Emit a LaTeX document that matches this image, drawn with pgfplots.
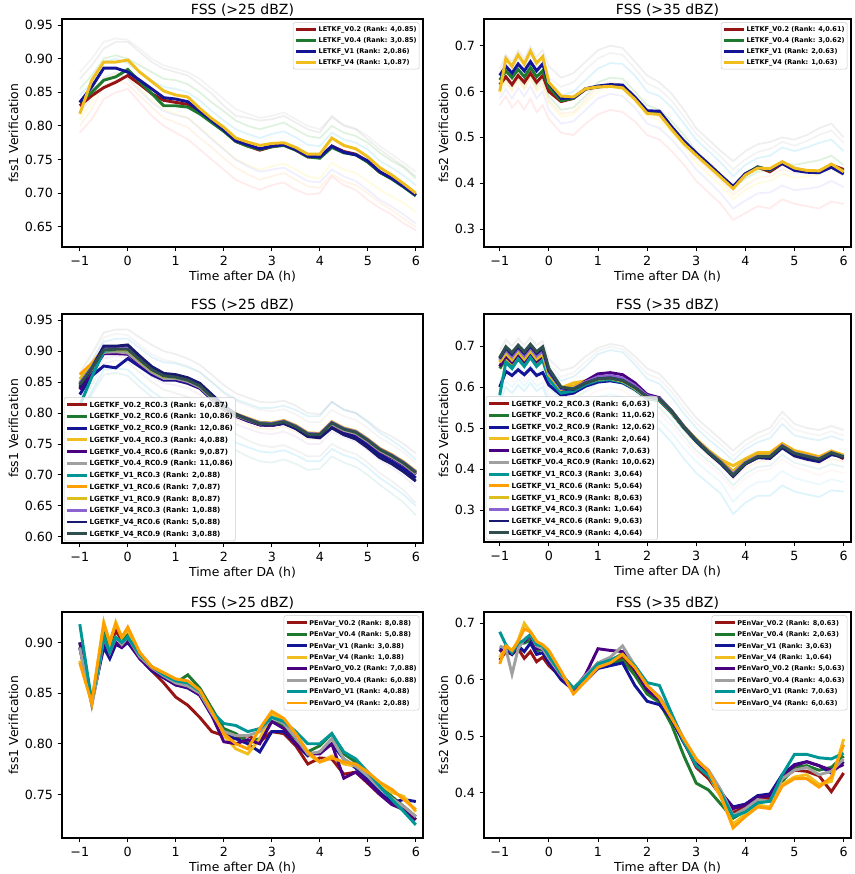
\documentclass[border=0pt]{standalone}
\usepackage{fontspec}
\setmainfont{DejaVu Sans}
\usepackage{pgfplots}
\usepackage{pgfplotstable}
\pgfplotsset{compat=1.18}

\definecolor{cR}{RGB}{150,20,20}
\definecolor{cG}{RGB}{30,120,45}
\definecolor{cB}{RGB}{20,20,150}
\definecolor{cY}{RGB}{240,190,30}
\definecolor{cP}{RGB}{75,0,130}
\definecolor{cK}{RGB}{160,160,160}
\definecolor{cC}{RGB}{0,150,150}
\definecolor{cO}{RGB}{255,160,0}
\definecolor{cGo}{RGB}{220,190,30}
\definecolor{cMP}{RGB}{140,100,210}
\definecolor{cN}{RGB}{25,25,112}
\definecolor{cD}{RGB}{47,79,79}

\pgfplotsset{
  fss/.style={
    scale only axis, no markers,
    tick align=outside, xtick pos=bottom, ytick pos=left,
    axis line style={line width=0.9pt},
    every tick/.style={black, line width=0.7pt},
    major tick length=3.2pt,
    xtick={-1,0,1,2,3,4,5,6},
    xticklabels={−1,0,1,2,3,4,5,6},
    xlabel={Time after DA (h)},
    /pgf/number format/assume math mode=true,
    ticklabel style={font=\fontsize{9.5}{10}\selectfont},
    label style={font=\fontsize{9.3}{10}\selectfont},
    xlabel style={yshift=3pt},
    ylabel style={yshift=-2pt},
    title style={font=\fontsize{10.5}{11}\selectfont, yshift=-7.5pt},
    legend cell align=left,
    legend style={font=\fontsize{4.9}{5.5}\selectfont\bfseries, draw=black!20,
      fill=white, fill opacity=0.8, text opacity=1, rounded corners=1.5pt,
      inner sep=1pt, row sep=0pt},
    legend image code/.code={\draw[##1, line width=2.2pt] (0pt,0pt) -- (15pt,0pt);},
  },
  main/.style={line width=2.2pt},
  mem/.style={line width=1.3pt, opacity=0.13, forget plot},
}

% panel 1: t r g b y m1..m8
\pgfplotstableread{
t r g b y m1 m2 m3 m4 m5 m6 m7 m8
-1    .830 .835 .835 .818 .870 .790 .855 .810 .845 .820 .880 .800
-0.75 .845 .850 .858 .868 .890 .810 .875 .835 .865 .842 .900 .825
-0.5  .857 .868 .886 .895 .915 .840 .900 .870 .895 .872 .925 .860
-0.25 .865 .873 .886 .895 .925 .850 .905 .878 .900 .880 .930 .868
0     .875 .884 .880 .898 .925 .855 .900 .872 .893 .870 .928 .862
0.25  .862 .866 .868 .880 .910 .835 .890 .855 .880 .852 .915 .845
0.5   .848 .848 .855 .866 .895 .815 .880 .838 .868 .835 .900 .828
0.75  .838 .830 .842 .852 .885 .800 .870 .825 .858 .822 .890 .812
1     .835 .830 .840 .846 .880 .790 .868 .818 .855 .816 .885 .805
1.25  .832 .828 .836 .843 .875 .780 .862 .812 .850 .812 .880 .798
1.5   .820 .818 .822 .826 .862 .765 .850 .798 .838 .796 .870 .782
1.75  .806 .805 .808 .811 .848 .750 .835 .782 .822 .780 .855 .768
2     .793 .792 .794 .798 .830 .735 .822 .766 .808 .765 .840 .752
2.25  .777 .777 .778 .782 .815 .720 .808 .750 .795 .750 .825 .738
2.5   .770 .770 .772 .776 .812 .712 .800 .742 .788 .740 .818 .728
2.75  .764 .765 .766 .771 .808 .705 .795 .735 .782 .732 .812 .720
3     .769 .769 .770 .774 .810 .712 .800 .740 .788 .735 .815 .725
3.25  .772 .771 .772 .775 .815 .716 .805 .744 .792 .738 .820 .730
3.5   .764 .764 .765 .768 .805 .705 .795 .735 .783 .728 .810 .720
3.75  .754 .754 .755 .758 .795 .698 .785 .725 .772 .718 .800 .710
4     .753 .752 .754 .758 .790 .700 .782 .722 .770 .716 .795 .708
4.25  .770 .768 .770 .782 .815 .725 .800 .745 .790 .735 .812 .728
4.5   .762 .760 .761 .771 .800 .712 .790 .735 .780 .725 .802 .718
4.75  .758 .757 .757 .766 .795 .705 .785 .730 .775 .718 .796 .712
5     .747 .746 .748 .754 .780 .690 .775 .718 .765 .705 .785 .700
5.25  .731 .731 .732 .738 .765 .678 .760 .705 .748 .690 .770 .686
5.5   .722 .721 .722 .727 .752 .668 .748 .695 .738 .680 .758 .675
5.75  .710 .709 .710 .714 .740 .655 .738 .685 .726 .668 .745 .662
6     .697 .696 .697 .700 .725 .645 .722 .672 .712 .655 .732 .650
}\tA

% panel 2
\pgfplotstableread{
t r g b y m1 m2 m3 m4 m5 m6 m7 m8
-1     .615 .625 .635 .600 .650 .570 .610 .595 .630 .585 .640 .605
-0.875 .632 .645 .655 .672 .680 .590 .630 .620 .655 .605 .668 .625
-0.75  .615 .630 .640 .655 .665 .565 .612 .600 .635 .585 .648 .605
-0.625 .635 .648 .660 .680 .690 .580 .632 .625 .660 .608 .672 .628
-0.5   .620 .632 .645 .660 .672 .560 .615 .605 .640 .590 .655 .608
-0.375 .640 .652 .665 .688 .698 .585 .638 .630 .665 .612 .678 .632
-0.25  .620 .632 .645 .662 .675 .555 .612 .600 .640 .585 .655 .605
-0.125 .635 .645 .660 .676 .690 .570 .628 .615 .655 .600 .668 .620
0      .600 .610 .618 .620 .655 .540 .590 .575 .615 .560 .630 .580
0.25   .578 .580 .585 .590 .630 .510 .560 .545 .590 .530 .610 .552
0.5    .585 .585 .586 .588 .640 .505 .565 .550 .600 .535 .620 .555
0.75   .605 .606 .606 .606 .665 .530 .590 .575 .625 .560 .648 .582
1      .610 .610 .612 .610 .690 .550 .620 .600 .650 .585 .672 .610
1.25   .612 .613 .615 .611 .700 .560 .630 .610 .662 .595 .684 .620
1.5    .610 .612 .614 .608 .695 .555 .628 .605 .660 .590 .680 .615
1.75   .585 .586 .588 .583 .665 .535 .600 .580 .635 .565 .650 .588
2      .555 .556 .558 .552 .635 .505 .570 .548 .600 .530 .618 .555
2.25   .553 .555 .557 .550 .620 .495 .560 .538 .590 .520 .605 .545
2.5    .520 .521 .523 .517 .595 .470 .535 .510 .565 .495 .580 .520
2.75   .488 .490 .492 .486 .560 .440 .505 .480 .530 .465 .545 .490
3      .463 .465 .466 .461 .520 .405 .470 .445 .495 .430 .508 .455
3.25   .440 .441 .442 .437 .495 .380 .445 .420 .470 .405 .482 .430
3.5    .415 .416 .417 .413 .470 .355 .420 .395 .445 .378 .458 .405
3.75   .392 .392 .393 .388 .448 .320 .390 .365 .415 .345 .430 .375
4      .418 .420 .421 .418 .470 .335 .410 .385 .440 .362 .452 .395
4.25   .435 .436 .434 .433 .485 .350 .425 .400 .455 .378 .468 .412
4.5    .425 .428 .430 .432 .490 .345 .430 .405 .460 .380 .475 .415
4.75   .443 .445 .443 .447 .500 .365 .445 .420 .478 .395 .490 .430
5      .430 .432 .428 .433 .495 .355 .440 .412 .470 .385 .482 .422
5.25   .426 .426 .424 .428 .505 .350 .445 .415 .478 .388 .492 .425
5.5    .425 .425 .423 .427 .520 .345 .450 .420 .488 .392 .505 .430
5.75   .440 .438 .435 .442 .530 .360 .460 .432 .495 .405 .515 .440
6      .430 .427 .420 .425 .500 .355 .440 .415 .470 .392 .488 .422
}\tB

% panel 3
\pgfplotstableread{
t c1 c2 c3 c4 c5 c6 c7 c8 c9 c10 c11 c12 m1 m2 m3 m4 m5 m6 m7 m8
-1    .840 .845 .830 .850 .838 .845 .812 .862 .855 .848 .842 .846 .865 .800 .850 .815 .830 .825 .855 .795
-0.75 .868 .872 .860 .878 .866 .870 .858 .880 .876 .874 .872 .872 .895 .835 .885 .845 .860 .855 .882 .830
-0.5  .898 .900 .876 .905 .896 .898 .900 .904 .902 .906 .908 .902 .930 .870 .915 .880 .895 .888 .922 .862
-0.25 .898 .900 .873 .905 .896 .899 .902 .903 .902 .906 .908 .903 .935 .872 .920 .885 .900 .892 .928 .865
0     .897 .898 .888 .905 .895 .897 .902 .903 .902 .908 .910 .903 .935 .870 .920 .882 .898 .890 .926 .860
0.25  .880 .882 .875 .888 .879 .881 .885 .886 .885 .890 .892 .886 .922 .852 .905 .866 .880 .874 .910 .842
0.5   .866 .867 .862 .872 .865 .866 .869 .870 .869 .873 .875 .870 .910 .835 .890 .850 .865 .858 .895 .826
0.75  .856 .857 .853 .862 .855 .856 .859 .860 .859 .862 .864 .860 .900 .822 .882 .838 .855 .848 .886 .812
1     .855 .856 .853 .860 .855 .856 .858 .859 .858 .860 .862 .858 .895 .818 .880 .832 .852 .845 .882 .806
1.25  .850 .851 .848 .856 .850 .851 .853 .854 .853 .855 .857 .853 .888 .810 .874 .826 .846 .840 .876 .800
1.5   .841 .842 .840 .847 .841 .842 .844 .845 .844 .846 .848 .844 .878 .800 .866 .816 .838 .830 .866 .790
1.75  .823 .824 .822 .829 .823 .824 .826 .827 .826 .828 .830 .826 .862 .782 .850 .798 .820 .812 .850 .772
2     .806 .807 .806 .811 .806 .807 .809 .810 .809 .810 .812 .809 .845 .765 .834 .780 .802 .795 .832 .755
2.25  .795 .796 .795 .799 .795 .796 .798 .798 .797 .798 .798 .797 .832 .752 .822 .766 .790 .782 .820 .740
2.5   .788 .789 .787 .792 .788 .789 .790 .791 .790 .791 .790 .790 .825 .745 .815 .756 .782 .775 .812 .730
2.75  .781 .782 .781 .785 .781 .782 .784 .784 .783 .784 .782 .783 .818 .738 .808 .748 .775 .768 .805 .722
3     .780 .781 .780 .784 .780 .781 .783 .783 .782 .783 .781 .782 .817 .736 .808 .745 .774 .766 .803 .720
3.25  .784 .785 .783 .788 .784 .785 .786 .787 .786 .787 .784 .786 .820 .740 .812 .748 .778 .770 .806 .725
3.5   .776 .777 .775 .780 .776 .777 .778 .779 .778 .779 .775 .778 .812 .732 .805 .740 .770 .762 .798 .718
3.75  .764 .765 .763 .768 .764 .765 .766 .767 .766 .767 .762 .766 .800 .722 .795 .730 .758 .750 .786 .708
4     .762 .763 .761 .767 .762 .763 .765 .766 .765 .766 .760 .765 .798 .722 .795 .730 .757 .750 .785 .710
4.25  .781 .782 .779 .786 .781 .782 .784 .785 .784 .785 .776 .784 .818 .742 .818 .750 .776 .770 .805 .730
4.5   .771 .772 .768 .776 .771 .772 .774 .775 .774 .775 .765 .774 .806 .732 .805 .740 .766 .760 .795 .720
4.75  .766 .767 .762 .771 .766 .767 .769 .770 .769 .770 .758 .769 .800 .726 .800 .734 .760 .754 .789 .713
5     .753 .754 .748 .758 .753 .754 .756 .757 .756 .757 .744 .756 .787 .712 .785 .720 .748 .740 .776 .700
5.25  .738 .739 .733 .743 .738 .739 .741 .742 .741 .742 .728 .741 .772 .695 .768 .703 .732 .724 .760 .684
5.5   .728 .729 .722 .733 .728 .729 .731 .732 .731 .732 .718 .731 .762 .682 .756 .690 .720 .712 .749 .670
5.75  .716 .717 .710 .721 .716 .717 .719 .720 .719 .720 .705 .719 .750 .668 .742 .675 .707 .698 .736 .655
6     .701 .702 .695 .706 .701 .702 .704 .705 .704 .705 .690 .704 .735 .650 .725 .655 .690 .680 .720 .635
}\tC

% panel 4
\pgfplotstableread{
t c1 c2 c3 c4 c5 c6 c7 c8 c9 c10 c11 c12 m1 m2 m3 m4 m5 m6 m7 m8
-1     .650 .645 .600 .655 .650 .665 .580 .662 .660 .668 .670 .672 .690 .565 .660 .600 .630 .615 .675 .585
-0.875 .672 .668 .638 .670 .675 .690 .660 .684 .682 .690 .695 .698 .715 .600 .690 .630 .660 .645 .705 .615
-0.75  .658 .652 .628 .658 .660 .675 .645 .668 .666 .674 .680 .684 .700 .585 .675 .612 .645 .630 .690 .600
-0.625 .678 .672 .642 .672 .680 .695 .668 .688 .686 .694 .698 .702 .718 .605 .695 .632 .665 .650 .708 .620
-0.5   .660 .655 .630 .660 .662 .678 .650 .670 .668 .676 .682 .686 .702 .590 .678 .615 .648 .632 .692 .602
-0.375 .680 .675 .645 .675 .682 .698 .672 .690 .688 .696 .700 .704 .720 .610 .698 .635 .668 .652 .710 .622
-0.25  .660 .655 .628 .658 .662 .678 .650 .670 .668 .676 .682 .686 .702 .590 .678 .615 .648 .632 .692 .602
-0.125 .672 .668 .635 .668 .675 .690 .665 .682 .680 .688 .694 .698 .712 .600 .690 .625 .660 .645 .702 .612
0      .625 .622 .605 .630 .628 .640 .618 .632 .630 .636 .640 .645 .668 .560 .645 .585 .612 .598 .655 .572
0.25   .588 .586 .580 .598 .592 .598 .585 .596 .594 .596 .598 .600 .640 .530 .615 .555 .582 .568 .625 .542
0.5    .592 .590 .585 .610 .595 .598 .590 .602 .600 .596 .594 .595 .648 .528 .625 .556 .585 .570 .635 .542
0.75   .608 .606 .602 .615 .615 .612 .606 .612 .610 .612 .610 .610 .675 .545 .650 .575 .602 .590 .662 .560
1      .618 .616 .612 .620 .632 .622 .616 .620 .619 .625 .620 .620 .695 .560 .680 .592 .620 .610 .688 .576
1.25   .620 .618 .615 .622 .635 .624 .618 .622 .621 .628 .622 .622 .705 .565 .690 .598 .625 .615 .698 .582
1.5    .613 .612 .610 .615 .630 .617 .612 .615 .614 .622 .616 .616 .700 .560 .685 .592 .620 .610 .692 .576
1.75   .596 .595 .594 .598 .610 .600 .595 .598 .597 .604 .599 .599 .675 .540 .655 .572 .598 .588 .665 .556
2      .573 .572 .572 .576 .582 .577 .572 .575 .574 .579 .576 .576 .645 .508 .620 .545 .570 .560 .632 .528
2.25   .568 .567 .567 .571 .574 .572 .567 .570 .569 .572 .570 .571 .632 .498 .608 .535 .560 .550 .620 .518
2.5    .538 .537 .538 .541 .542 .542 .537 .540 .539 .541 .540 .541 .600 .465 .575 .505 .530 .518 .588 .488
2.75   .500 .500 .501 .504 .503 .504 .500 .503 .502 .503 .502 .503 .562 .425 .535 .468 .492 .480 .548 .450
3      .468 .468 .469 .473 .470 .472 .467 .471 .470 .470 .468 .470 .525 .390 .500 .435 .458 .445 .512 .418
3.25   .440 .440 .441 .446 .441 .444 .439 .443 .442 .442 .439 .441 .498 .365 .472 .410 .432 .420 .485 .392
3.5    .416 .416 .417 .423 .416 .420 .414 .419 .418 .417 .413 .416 .472 .340 .448 .385 .408 .395 .460 .368
3.75   .388 .388 .390 .408 .386 .392 .384 .395 .393 .388 .382 .385 .445 .290 .420 .350 .375 .360 .432 .320
4      .416 .415 .414 .425 .414 .420 .413 .420 .419 .416 .412 .414 .470 .318 .448 .378 .402 .388 .458 .350
4.25   .430 .430 .428 .440 .428 .434 .428 .436 .434 .431 .428 .430 .488 .335 .465 .395 .418 .405 .476 .368
4.5    .430 .430 .426 .440 .428 .434 .428 .436 .434 .431 .427 .430 .500 .335 .475 .400 .422 .408 .488 .370
4.75   .455 .456 .452 .462 .455 .459 .454 .460 .458 .457 .453 .456 .540 .360 .510 .425 .448 .435 .525 .395
5      .438 .438 .432 .445 .437 .441 .436 .443 .441 .439 .434 .438 .510 .345 .482 .405 .428 .415 .496 .378
5.25   .432 .431 .424 .438 .430 .434 .430 .436 .434 .432 .427 .431 .500 .338 .475 .395 .420 .408 .488 .370
5.5    .425 .424 .418 .430 .422 .426 .423 .428 .426 .425 .420 .424 .495 .332 .470 .385 .412 .400 .482 .362
5.75   .440 .439 .435 .444 .438 .441 .438 .442 .441 .440 .436 .440 .505 .348 .480 .398 .425 .412 .492 .375
6      .425 .430 .432 .434 .428 .431 .430 .432 .431 .430 .428 .430 .495 .345 .470 .390 .418 .405 .482 .368
}\tD

% panel 5
\pgfplotstableread{
t r g b y p k c o
-1     .895 .900 .895 .882 .900 .895 .918 .880
-0.875 .868 .872 .868 .862 .870 .866 .880 .860
-0.75  .840 .842 .842 .842 .840 .838 .842 .840
-0.625 .868 .875 .868 .880 .870 .868 .872 .880
-0.5   .900 .910 .895 .920 .902 .905 .905 .918
-0.375 .890 .896 .884 .900 .888 .890 .890 .900
-0.25  .912 .905 .898 .920 .900 .905 .905 .918
-0.125 .902 .900 .895 .905 .895 .898 .900 .905
0      .905 .908 .900 .912 .902 .905 .905 .915
0.25   .885 .886 .884 .890 .884 .886 .888 .890
0.5    .872 .874 .872 .876 .873 .875 .876 .876
0.75   .860 .868 .865 .870 .866 .867 .868 .870
1      .846 .860 .858 .862 .858 .860 .862 .864
1.25   .838 .868 .855 .860 .856 .857 .860 .862
1.5    .826 .855 .848 .852 .848 .850 .852 .853
1.75   .812 .835 .828 .830 .828 .830 .832 .832
2      .808 .815 .810 .808 .802 .812 .820 .810
2.25   .805 .810 .805 .795 .800 .808 .818 .800
2.5    .808 .802 .800 .790 .804 .808 .812 .795
2.75   .802 .805 .792 .805 .800 .812 .815 .815
3      .812 .822 .812 .830 .822 .826 .826 .832
3.25   .810 .818 .812 .822 .815 .820 .822 .825
3.5    .798 .805 .800 .808 .800 .806 .812 .810
3.75   .780 .792 .788 .790 .790 .790 .800 .792
4      .786 .798 .792 .782 .790 .792 .800 .782
4.25   .785 .810 .800 .788 .800 .805 .810 .786
4.5    .770 .790 .785 .780 .766 .785 .792 .782
4.75   .772 .782 .776 .778 .772 .778 .785 .780
5      .761 .772 .765 .770 .762 .768 .772 .772
5.25   .750 .758 .752 .760 .750 .756 .758 .762
5.5    .742 .748 .742 .752 .740 .746 .745 .755
5.75   .738 .738 .745 .748 .735 .738 .733 .745
6      .728 .725 .743 .733 .725 .728 .720 .735
}\tE

% panel 6
\pgfplotstableread{
t r g b y p k c o
-1     .635 .650 .655 .640 .650 .660 .685 .628
-0.875 .650 .660 .655 .660 .660 .655 .662 .660
-0.75  .645 .650 .645 .650 .648 .610 .648 .652
-0.625 .655 .665 .660 .670 .665 .655 .665 .668
-0.5   .638 .665 .650 .700 .668 .672 .670 .690
-0.375 .650 .670 .665 .685 .678 .680 .680 .685
-0.25  .632 .650 .645 .668 .655 .660 .662 .668
-0.125 .640 .655 .648 .660 .655 .655 .660 .662
0      .625 .640 .630 .650 .635 .638 .642 .652
0.25   .605 .610 .600 .612 .605 .608 .610 .615
0.5    .582 .585 .582 .578 .580 .585 .585 .575
0.75   .605 .605 .598 .600 .610 .608 .605 .598
1      .630 .625 .620 .625 .655 .630 .628 .622
1.25   .632 .628 .625 .632 .652 .640 .635 .630
1.5    .640 .635 .630 .648 .650 .660 .645 .645
1.75   .615 .608 .590 .620 .618 .625 .625 .622
2      .580 .575 .562 .585 .582 .590 .595 .590
2.25   .565 .560 .556 .570 .565 .570 .590 .568
2.5    .530 .520 .530 .535 .532 .538 .540 .532
2.75   .490 .465 .488 .492 .492 .495 .490 .495
3      .445 .417 .452 .455 .455 .458 .448 .460
3.25   .425 .405 .435 .432 .435 .440 .430 .438
3.5    .395 .380 .400 .392 .402 .405 .400 .395
3.75   .365 .355 .375 .345 .372 .360 .358 .338
4      .375 .368 .380 .362 .378 .372 .366 .358
4.25   .390 .385 .395 .378 .392 .388 .382 .375
4.5    .390 .385 .398 .375 .395 .385 .385 .372
4.75   .425 .420 .432 .415 .430 .425 .432 .412
5      .440 .445 .450 .428 .448 .440 .468 .425
5.25   .438 .448 .455 .432 .455 .445 .468 .425
5.5    .430 .440 .448 .415 .448 .432 .462 .410
5.75   .402 .445 .435 .420 .440 .438 .460 .428
6      .435 .465 .455 .495 .450 .460 .470 .485
}\tF

\begin{document}
\begin{tikzpicture}
\useasboundingbox (0,0) rectangle (640.5pt,-655.5pt);

% ---- panel 1
\begin{axis}[fss, at={(46.5pt,-14.25pt)}, anchor=north west,
  width=270.75pt, height=171pt,
  xmin=-1.37, xmax=6.15, ymin=0.62, ymax=0.959,
  ytick={0.65,0.70,0.75,0.80,0.85,0.90,0.95},
  yticklabels={0.65,0.70,0.75,0.80,0.85,0.90,0.95},
  ylabel={fss1 Verification}, title={FSS (>25 dBZ)},
  legend style={at={(0.99,0.985)}, anchor=north east,
    nodes={inner sep=0.9pt, text height=4.9pt, text depth=1.5pt}}]
\addplot[mem, gray] table[y=m1]{\tA};
\addplot[mem, red!60] table[y=m2]{\tA};
\addplot[mem, green!60!black] table[y=m3]{\tA};
\addplot[mem, yellow!80!orange] table[y=m4]{\tA};
\addplot[mem, cyan] table[y=m5]{\tA};
\addplot[mem, blue!50] table[y=m6]{\tA};
\addplot[mem, gray!70] table[y=m7]{\tA};
\addplot[mem, orange!70] table[y=m8]{\tA};
\addplot[main, cR] table[y=r]{\tA}; \addlegendentry{LETKF\_V0.2 (Rank: 4,0.85)}
\addplot[main, cG] table[y=g]{\tA}; \addlegendentry{LETKF\_V0.4 (Rank: 3,0.85)}
\addplot[main, cB] table[y=b]{\tA}; \addlegendentry{LETKF\_V1 (Rank: 2,0.86)}
\addplot[main, cY] table[y=y]{\tA}; \addlegendentry{LETKF\_V4 (Rank: 1,0.87)}
\end{axis}

% ---- panel 2
\begin{axis}[fss, at={(363pt,-14.25pt)}, anchor=north west,
  width=275.25pt, height=171pt,
  xmin=-1.32, xmax=6.15, ymin=0.261, ymax=0.758,
  ytick={0.3,0.4,0.5,0.6,0.7}, yticklabels={0.3,0.4,0.5,0.6,0.7},
  ylabel={fss2 Verification}, title={FSS (>35 dBZ)},
  legend style={at={(0.99,0.985)}, anchor=north east,
    nodes={inner sep=0.9pt, text height=4.9pt, text depth=1.5pt}}]
\addplot[mem, gray] table[y=m1]{\tB};
\addplot[mem, red!60] table[y=m2]{\tB};
\addplot[mem, green!60!black] table[y=m3]{\tB};
\addplot[mem, yellow!80!orange] table[y=m4]{\tB};
\addplot[mem, cyan] table[y=m5]{\tB};
\addplot[mem, blue!50] table[y=m6]{\tB};
\addplot[mem, gray!70] table[y=m7]{\tB};
\addplot[mem, orange!70] table[y=m8]{\tB};
\addplot[main, cR] table[y=r]{\tB}; \addlegendentry{LETKF\_V0.2 (Rank: 4,0.61)}
\addplot[main, cG] table[y=g]{\tB}; \addlegendentry{LETKF\_V0.4 (Rank: 3,0.62)}
\addplot[main, cB] table[y=b]{\tB}; \addlegendentry{LETKF\_V1 (Rank: 2,0.63)}
\addplot[main, cY] table[y=y]{\tB}; \addlegendentry{LETKF\_V4 (Rank: 1,0.63)}
\end{axis}

% ---- panel 3
\begin{axis}[fss, at={(46.5pt,-235.5pt)}, anchor=north west,
  width=270.75pt, height=171.75pt,
  xmin=-1.37, xmax=6.15, ymin=0.59, ymax=0.96,
  ytick={0.60,0.65,0.70,0.75,0.80,0.85,0.90,0.95},
  yticklabels={0.60,0.65,0.70,0.75,0.80,0.85,0.90,0.95},
  ylabel={fss1 Verification}, title={FSS (>25 dBZ)},
  legend style={at={(0.005,0.008)}, anchor=south west,
    font=\fontsize{5.3}{6}\selectfont\bfseries,
    nodes={inner sep=0.9pt, text height=5.4pt, text depth=1.6pt}}]
\addplot[mem, gray] table[y=m1]{\tC};
\addplot[mem, cyan] table[y=m2]{\tC};
\addplot[mem, cyan!80!teal] table[y=m3]{\tC};
\addplot[mem, gray!80] table[y=m4]{\tC};
\addplot[mem, orange!70] table[y=m5]{\tC};
\addplot[mem, violet!50] table[y=m6]{\tC};
\addplot[mem, gray!60] table[y=m7]{\tC};
\addplot[mem, teal!70] table[y=m8]{\tC};
\addplot[main, cR] table[y=c1]{\tC}; \addlegendentry{LGETKF\_V0.2\_RC0.3 (Rank: 6,0.87)}
\addplot[main, cG] table[y=c2]{\tC}; \addlegendentry{LGETKF\_V0.2\_RC0.6 (Rank: 10,0.86)}
\addplot[main, cB] table[y=c3]{\tC}; \addlegendentry{LGETKF\_V0.2\_RC0.9 (Rank: 12,0.86)}
\addplot[main, cY] table[y=c4]{\tC}; \addlegendentry{LGETKF\_V0.4\_RC0.3 (Rank: 4,0.88)}
\addplot[main, cP] table[y=c5]{\tC}; \addlegendentry{LGETKF\_V0.4\_RC0.6 (Rank: 9,0.87)}
\addplot[main, cK] table[y=c6]{\tC}; \addlegendentry{LGETKF\_V0.4\_RC0.9 (Rank: 11,0.86)}
\addplot[main, cC] table[y=c7]{\tC}; \addlegendentry{LGETKF\_V1\_RC0.3 (Rank: 2,0.88)}
\addplot[main, cO] table[y=c8]{\tC}; \addlegendentry{LGETKF\_V1\_RC0.6 (Rank: 7,0.87)}
\addplot[main, cGo] table[y=c9]{\tC}; \addlegendentry{LGETKF\_V1\_RC0.9 (Rank: 8,0.87)}
\addplot[main, cMP] table[y=c10]{\tC}; \addlegendentry{LGETKF\_V4\_RC0.3 (Rank: 1,0.88)}
\addplot[main, cN] table[y=c11]{\tC}; \addlegendentry{LGETKF\_V4\_RC0.6 (Rank: 5,0.88)}
\addplot[main, cD] table[y=c12]{\tC}; \addlegendentry{LGETKF\_V4\_RC0.9 (Rank: 3,0.88)}
\end{axis}

% ---- panel 4
\begin{axis}[fss, at={(363pt,-235.5pt)}, anchor=north west,
  width=275.25pt, height=171pt,
  xmin=-1.32, xmax=6.15, ymin=0.222, ymax=0.778,
  ytick={0.3,0.4,0.5,0.6,0.7}, yticklabels={0.3,0.4,0.5,0.6,0.7},
  ylabel={fss2 Verification}, title={FSS (>35 dBZ)},
  legend style={at={(0.005,0.008)}, anchor=south west,
    font=\fontsize{5.3}{6}\selectfont\bfseries,
    nodes={inner sep=0.9pt, text height=5.4pt, text depth=1.6pt}}]
\addplot[mem, gray] table[y=m1]{\tD};
\addplot[mem, cyan] table[y=m2]{\tD};
\addplot[mem, cyan!80!teal] table[y=m3]{\tD};
\addplot[mem, pink] table[y=m4]{\tD};
\addplot[mem, orange!70] table[y=m5]{\tD};
\addplot[mem, teal!70] table[y=m6]{\tD};
\addplot[mem, gray!60] table[y=m7]{\tD};
\addplot[mem, cyan!60] table[y=m8]{\tD};
\addplot[main, cR] table[y=c1]{\tD}; \addlegendentry{LGETKF\_V0.2\_RC0.3 (Rank: 6,0.63)}
\addplot[main, cG] table[y=c2]{\tD}; \addlegendentry{LGETKF\_V0.2\_RC0.6 (Rank: 11,0.62)}
\addplot[main, cB] table[y=c3]{\tD}; \addlegendentry{LGETKF\_V0.2\_RC0.9 (Rank: 12,0.62)}
\addplot[main, cY] table[y=c4]{\tD}; \addlegendentry{LGETKF\_V0.4\_RC0.3 (Rank: 2,0.64)}
\addplot[main, cP] table[y=c5]{\tD}; \addlegendentry{LGETKF\_V0.4\_RC0.6 (Rank: 7,0.63)}
\addplot[main, cK] table[y=c6]{\tD}; \addlegendentry{LGETKF\_V0.4\_RC0.9 (Rank: 10,0.62)}
\addplot[main, cC] table[y=c7]{\tD}; \addlegendentry{LGETKF\_V1\_RC0.3 (Rank: 3,0.64)}
\addplot[main, cO] table[y=c8]{\tD}; \addlegendentry{LGETKF\_V1\_RC0.6 (Rank: 5,0.64)}
\addplot[main, cGo] table[y=c9]{\tD}; \addlegendentry{LGETKF\_V1\_RC0.9 (Rank: 8,0.63)}
\addplot[main, cMP] table[y=c10]{\tD}; \addlegendentry{LGETKF\_V4\_RC0.3 (Rank: 1,0.64)}
\addplot[main, cN] table[y=c11]{\tD}; \addlegendentry{LGETKF\_V4\_RC0.6 (Rank: 9,0.63)}
\addplot[main, cD] table[y=c12]{\tD}; \addlegendentry{LGETKF\_V4\_RC0.9 (Rank: 4,0.64)}
\end{axis}

% ---- panel 5
\begin{axis}[fss, at={(46.5pt,-459pt)}, anchor=north west,
  width=270.75pt, height=169.5pt,
  xmin=-1.37, xmax=6.15, ymin=0.707, ymax=0.930,
  ytick={0.75,0.80,0.85,0.90}, yticklabels={0.75,0.80,0.85,0.90},
  ylabel={fss1 Verification}, title={FSS (>25 dBZ)},
  legend style={at={(0.99,0.985)}, anchor=north east,
    nodes={inner sep=0.9pt, text height=5.2pt, text depth=1.6pt}}]
\addplot[main, cR] table[y=r]{\tE}; \addlegendentry{PEnVar\_V0.2 (Rank: 8,0.88)}
\addplot[main, cG] table[y=g]{\tE}; \addlegendentry{PEnVar\_V0.4 (Rank: 5,0.88)}
\addplot[main, cB] table[y=b]{\tE}; \addlegendentry{PEnVar\_V1 (Rank: 3,0.88)}
\addplot[main, cY] table[y=y]{\tE}; \addlegendentry{PEnVar\_V4 (Rank: 1,0.88)}
\addplot[main, cP] table[y=p]{\tE}; \addlegendentry{PEnVarO\_V0.2 (Rank: 7,0.88)}
\addplot[main, cK] table[y=k]{\tE}; \addlegendentry{PEnVarO\_V0.4 (Rank: 6,0.88)}
\addplot[main, cC] table[y=c]{\tE}; \addlegendentry{PEnVarO\_V1 (Rank: 4,0.88)}
\addplot[main, cO] table[y=o]{\tE}; \addlegendentry{PEnVarO\_V4 (Rank: 2,0.88)}
\end{axis}

% ---- panel 6
\begin{axis}[fss, at={(363pt,-459pt)}, anchor=north west,
  width=275.25pt, height=169.5pt,
  xmin=-1.32, xmax=6.15, ymin=0.32, ymax=0.72,
  ytick={0.4,0.5,0.6,0.7}, yticklabels={0.4,0.5,0.6,0.7},
  ylabel={fss2 Verification}, title={FSS (>35 dBZ)},
  legend style={at={(0.99,0.985)}, anchor=north east,
    nodes={inner sep=0.9pt, text height=5.2pt, text depth=1.6pt}}]
\addplot[main, cR] table[y=r]{\tF}; \addlegendentry{PEnVar\_V0.2 (Rank: 8,0.63)}
\addplot[main, cG] table[y=g]{\tF}; \addlegendentry{PEnVar\_V0.4 (Rank: 2,0.63)}
\addplot[main, cB] table[y=b]{\tF}; \addlegendentry{PEnVar\_V1 (Rank: 3,0.63)}
\addplot[main, cY] table[y=y]{\tF}; \addlegendentry{PEnVar\_V4 (Rank: 1,0.64)}
\addplot[main, cP] table[y=p]{\tF}; \addlegendentry{PEnVarO\_V0.2 (Rank: 5,0.63)}
\addplot[main, cK] table[y=k]{\tF}; \addlegendentry{PEnVarO\_V0.4 (Rank: 4,0.63)}
\addplot[main, cC] table[y=c]{\tF}; \addlegendentry{PEnVarO\_V1 (Rank: 7,0.63)}
\addplot[main, cO] table[y=o]{\tF}; \addlegendentry{PEnVarO\_V4 (Rank: 6,0.63)}
\end{axis}
\end{tikzpicture}
\end{document}
